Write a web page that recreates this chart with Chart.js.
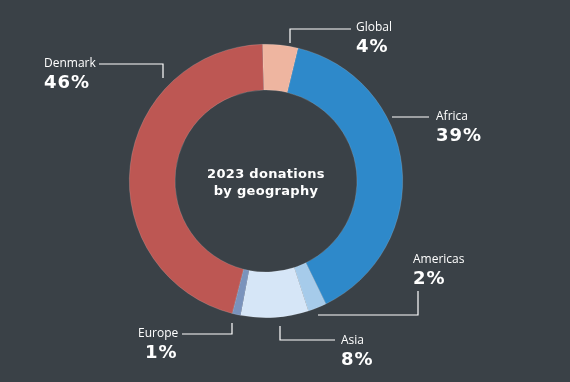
<!DOCTYPE html>
<html><head><meta charset="utf-8">
<script src="https://cdn.jsdelivr.net/npm/chart.js@4/dist/chart.umd.min.js"></script>
<style>html,body{margin:0;padding:0;background:#3a4147;}#wrap{width:570px;height:382px;position:relative;}</style>
</head><body><div id="wrap"><canvas id="c" width="570" height="382"></canvas></div>
<script>
const regions = ["Global", "Africa", "Americas", "Asia", "Europe", "Denmark"];
const shares = [4.2, 39, 2.2, 8, 1, 45.6];
const shareLabels = ["4%", "39%", "2%", "8%", "1%", "46%"];
const colors = ["#eeb5a0", "#2e89ca", "#a6cbea", "#d6e6f7", "#7a93bc", "#bd5753"];
const centerTitle = ["2023 donations", "by geography"];

// label layout: text position and leader polyline (annotation layout)
const labelLayout = [
  {x:356, y:28, line:[[290,43],[290,29],[351,29]]},
  {x:436, y:117, line:[[392,117],[429,117]]},
  {x:413, y:260, line:[[318,315],[418,315],[418,291]]},
  {x:341, y:341, line:[[280,326],[280,340],[335,340]]},
  {x:138, y:334, line:[[232,323],[232,334],[182,334]], pctX:145},
  {x:44, y:64, line:[[163,78],[163,64],[99,64]]}
];

const labelsPlugin = {
  id: 'labelsPlugin',
  afterDraw(chart) {
    const ctx = chart.ctx;
    ctx.save();
    ctx.strokeStyle = '#ffffff';
    ctx.lineWidth = 1.2;
    ctx.fillStyle = '#ffffff';
    labelLayout.forEach((l, i) => {
      ctx.beginPath();
      l.line.forEach((p, j) => j ? ctx.lineTo(p[0], p[1]) : ctx.moveTo(p[0], p[1]));
      ctx.stroke();
      ctx.textAlign = 'left';
      ctx.textBaseline = 'middle';
      ctx.font = '12px "Open Sans"';
      ctx.letterSpacing = '0px';
      ctx.fillText(regions[i], l.x, l.y);
      ctx.font = 'bold 18px "DejaVu Sans"';
      ctx.letterSpacing = '1px';
      ctx.fillText(shareLabels[i], l.pctX || l.x, l.y + 19);
      ctx.letterSpacing = '0px';
    });
    const a = chart.getDatasetMeta(0).data[0];
    ctx.textAlign = 'center';
    ctx.font = 'bold 13px "DejaVu Sans"';
    ctx.letterSpacing = '0.3px';
    ctx.fillText(centerTitle[0], a.x, a.y - 6);
    ctx.fillText(centerTitle[1], a.x, a.y + 11);
    ctx.restore();
  }
};

new Chart(document.getElementById('c'), {
  type: 'doughnut',
  data: {
    labels: regions,
    datasets: [{
      data: shares,
      backgroundColor: colors,
      borderWidth: 0.6,
      borderColor: 'rgba(255,255,255,0.25)'
    }]
  },
  options: {
    responsive: false,
    animation: false,
    rotation: -1.5,
    cutout: 91,
    layout: {padding: {top: 44, bottom: 64, left: 0, right: 38}},
    plugins: {legend: {display: false}, tooltip: {enabled: false}}
  },
  plugins: [labelsPlugin]
});
</script>
</body></html>
